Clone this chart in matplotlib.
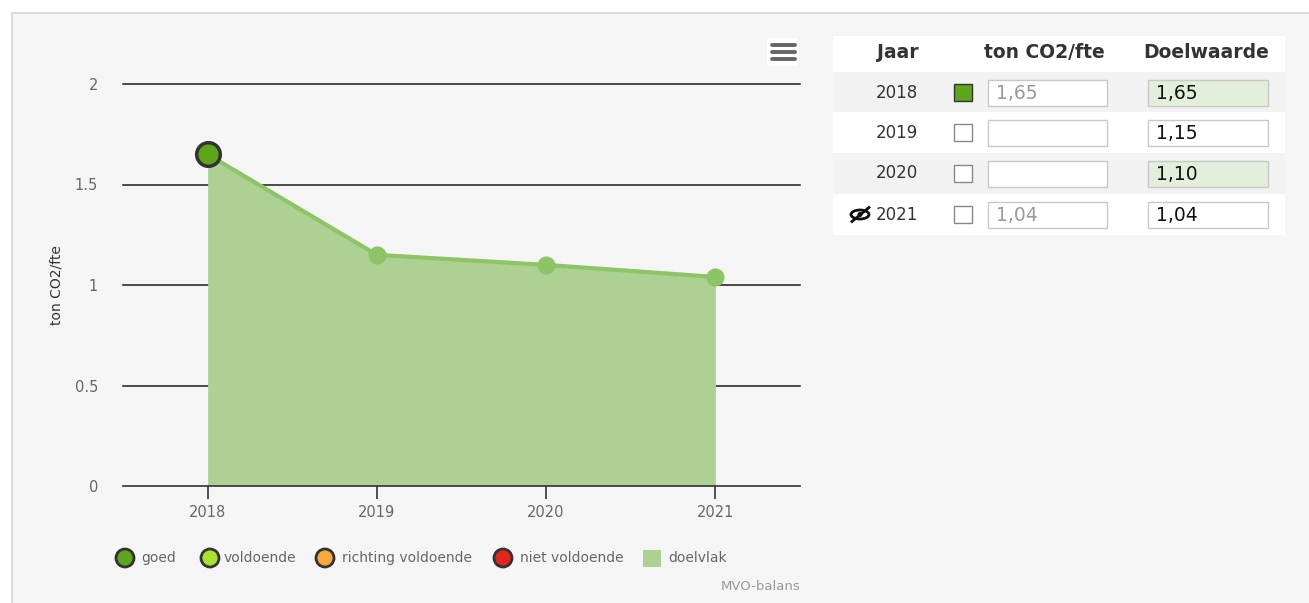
import matplotlib.pyplot as plt
import matplotlib.patches as mpatches
import numpy as np

plt.rcParams['font.family'] = ['DejaVu Sans']

# data
years = ['2018', '2019', '2020', '2021']
doelwaarde = [1.65, 1.15, 1.10, 1.04]
gemeten = [1.65, None, None, None]   # only 2018 is measured (status "goed")
gemeten_txt = ['1,65', '', '', '1,04']
doel_txt = ['1,65', '1,15', '1,10', '1,04']
doel_highlight = [True, False, True, False]
yticks = [0, 0.5, 1, 1.5, 2]

legend_labels = ['goed', 'voldoende', 'richting voldoende', 'niet voldoende', 'doelvlak']
legend_colors = ['#5ea51c', '#a9e22e', '#f8a93b', '#e2261c', '#acd193']

W, H = 1309, 603
fig = plt.figure(figsize=(W / 100, H / 100), dpi=100)
fig.patch.set_facecolor('white')

# background axes in pixel units (panel, table, legend)
bg = fig.add_axes([0, 0, 1, 1], zorder=0)
bg.set_xlim(0, W)
bg.set_ylim(H, 0)
bg.axis('off')
bg.add_patch(mpatches.Rectangle((12, 13), W, H, facecolor='#f5f5f5', edgecolor='#d6d6d6', lw=1.2))

# chart
ax = fig.add_axes([123 / W, (H - 486) / H, 677 / W, 402 / H], zorder=1)
ax.set_facecolor('none')
x = np.arange(len(years))
ax.fill_between(x, doelwaarde, 0, color='#acd193', lw=0, zorder=1)
ax.plot(x, doelwaarde, color='#8cc466', lw=3, marker='o', ms=12, mec='#8cc466', mfc='#8cc466', zorder=2)
gx = [i for i, v in enumerate(gemeten) if v is not None]
gy = [v for v in gemeten if v is not None]
ax.plot(gx, gy, ls='none', marker='o', ms=17, mfc='#5ea51c', mec='#333333', mew=2.5, zorder=3, clip_on=False)

ax.set_xlim(-0.5, len(years) - 0.5)
ax.set_ylim(0, 2)
ax.set_yticks(yticks)
ax.set_yticklabels(['0', '0.5', '1', '1.5', '2'])
ax.set_xticks(x)
ax.set_xticklabels(years)
for yv in yticks[1:]:
    ax.axhline(yv, color='#1a1a1a', lw=1.1, zorder=0.5, clip_on=False)
for s in ['top', 'right', 'left']:
    ax.spines[s].set_visible(False)
ax.spines['bottom'].set_color('#333333')
ax.spines['bottom'].set_linewidth(1.2)
ax.spines['bottom'].set_zorder(4)
ax.tick_params(axis='y', length=0, pad=18, labelsize=10.5, labelcolor='#666666')
ax.tick_params(axis='x', length=9, width=1.2, color='#333333', pad=5, labelsize=10.5, labelcolor='#666666')
ax.set_ylabel('ton CO2/fte', fontsize=10, color='#333333', labelpad=8)

# menu button
bg.add_patch(mpatches.FancyBboxPatch((767, 38), 32, 28, boxstyle='round,pad=0,rounding_size=3',
                                     facecolor='white', edgecolor='none'))
for yy in [45, 52, 59]:
    bg.plot([772, 795], [yy, yy], color='#666666', lw=2.8, solid_capstyle='round')

# legend
lx = [125, 210, 325, 503]
tx = [141, 224, 342, 520]
for i in range(4):
    bg.add_patch(mpatches.Circle((lx[i], 558), 9, facecolor=legend_colors[i], edgecolor='#333333', lw=2))
    bg.text(tx[i], 558, legend_labels[i], fontsize=10, color='#666666', va='center', ha='left')
bg.add_patch(mpatches.Rectangle((643, 550), 18, 17, facecolor=legend_colors[4], edgecolor='none'))
bg.text(668, 558, legend_labels[4], fontsize=10, color='#666666', va='center', ha='left')
bg.text(800, 587, 'MVO-balans', fontsize=9.5, color='#999999', va='center', ha='right')

# table
bg.add_patch(mpatches.Rectangle((833, 36), 452, 36, facecolor='white', edgecolor='none'))
bg.text(898, 53, 'Jaar', fontsize=13.5, fontweight='bold', color='#333333', ha='center', va='center')
bg.text(1044, 53, 'ton CO2/fte', fontsize=13.5, fontweight='bold', color='#333333', ha='center', va='center')
bg.text(1206, 53, 'Doelwaarde', fontsize=13.5, fontweight='bold', color='#333333', ha='center', va='center')
row_top = [72, 112, 153, 194]
for i, yr in enumerate(years):
    top = row_top[i]
    yc = top + 20.5
    bg.add_patch(mpatches.Rectangle((833, top), 452, 41,
                                    facecolor='#f2f2f2' if i % 2 == 0 else 'white', edgecolor='none'))
    bg.text(897, yc, yr, fontsize=12, color='#333333', ha='center', va='center')
    filled = gemeten[i] is not None
    bg.add_patch(mpatches.Rectangle((954, yc - 8.5), 18, 17,
                                    facecolor='#5ea51c' if filled else 'white',
                                    edgecolor='#333333' if filled else '#888888', lw=1))
    bg.add_patch(mpatches.Rectangle((988, yc - 13), 119, 26, facecolor='white', edgecolor='#c8c8c8', lw=1))
    bg.text(996, yc + 1, gemeten_txt[i], fontsize=13.5, color='#999999', ha='left', va='center')
    bg.add_patch(mpatches.Rectangle((1148, yc - 13), 120, 26,
                                    facecolor='#e2efda' if doel_highlight[i] else 'white',
                                    edgecolor='#c8c8c8', lw=1))
    bg.text(1156, yc + 1, doel_txt[i], fontsize=13.5, color='#111111', ha='left', va='center')

# hidden-eye icon next to 2021
yc = row_top[3] + 20.5
bg.add_patch(mpatches.Ellipse((860, yc), 18, 9, facecolor='none', edgecolor='#111111', lw=2))
bg.add_patch(mpatches.Circle((860, yc), 2.5, facecolor='#111111', edgecolor='none'))
bg.plot([852, 869], [yc + 7, yc - 7], color='#111111', lw=2)

fig.savefig('out.png', dpi=100, facecolor='white')
